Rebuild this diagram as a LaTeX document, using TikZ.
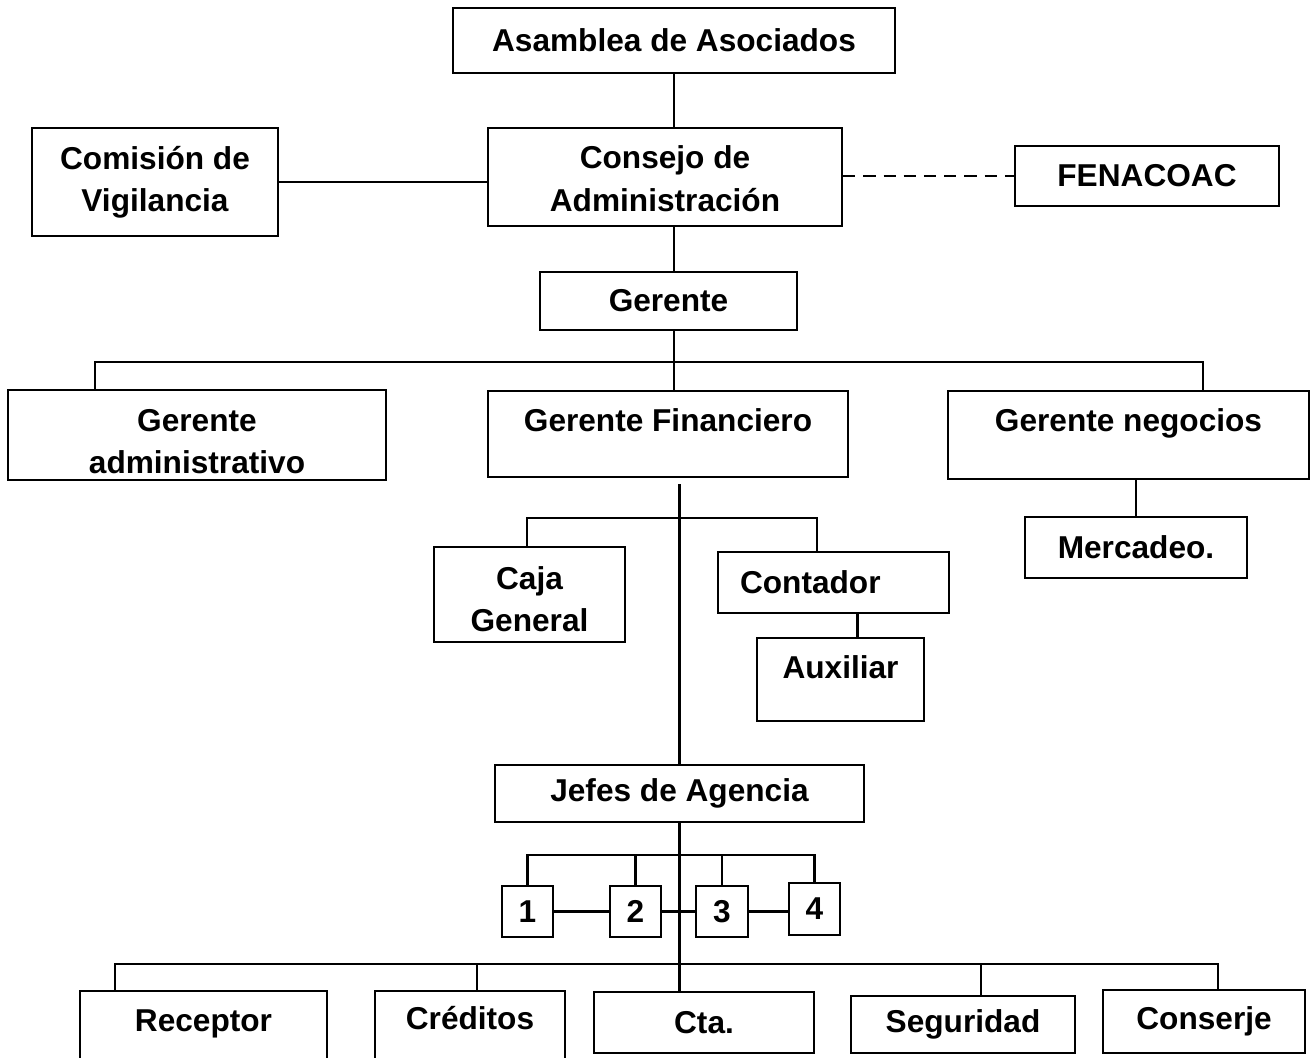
\documentclass[tikz,border=0pt]{standalone}
\usepackage{fontspec}
\setmainfont{Liberation Sans}
\usepackage{tikz}
\usetikzlibrary{positioning}

\begin{document}
\begin{tikzpicture}[x=0.02cm,y=-0.02cm,line width=1.3pt,
	box/.style={draw,line width=1.3pt,inner sep=0pt,align=center,font=\bfseries\fontsize{18}{24}\selectfont},
	topbox/.style={box,anchor=north}]

	\useasboundingbox (0,0) rectangle (1310,1057);

	% top of the chart
	\node[box,minimum width=8.84cm,minimum height=1.3cm]	(asam) at (674,40.5) {Asamblea de Asociados};
	\node[box,minimum width=4.92cm,minimum height=2.16cm]	(comi) at (155,182) {Comisión de\\Vigilancia};
	\node[box,minimum width=7.08cm,minimum height=1.96cm]	(cons) at (665,177) {\rule{0pt}{15pt}Consejo de\\Administración};
	\node[box,minimum width=5.28cm,minimum height=1.2cm]	(fena) at (1147,176) {FENACOAC};
	\node[box,minimum width=5.14cm,minimum height=1.16cm]	(ger) at (668.5,301) {Gerente};

	% gerentes
	\node[box,minimum width=7.56cm,minimum height=1.8cm]	(gadm) at (197,435) {\rule{0pt}{20pt}Gerente\\administrativo};
	\node[topbox,minimum width=7.2cm,text height=0.8cm,text depth=0.92cm]	(gfin) at (668,390) {Gerente Financiero};
	\node[topbox,minimum width=7.22cm,text height=0.8cm,text depth=0.96cm]	(gneg) at (1128.5,390) {Gerente negocios};
	\node[box,minimum width=4.44cm,minimum height=1.22cm]	(merc) at (1136,547.5) {Mercadeo.};

	% financiero
	\node[box,minimum width=3.82cm,minimum height=1.9cm]	(caja) at (529.5,594.5) {\rule{0pt}{18pt}Caja\\General};
	\node[box,align=left,inner xsep=0.44cm,text width=3.74cm,minimum height=1.22cm]	(cont) at (833.5,582.5) {Contador};
	\node[topbox,minimum width=3.34cm,text height=0.8cm,text depth=0.86cm]	(aux) at (840.5,637) {Auxiliar};
	\node[box,minimum width=7.38cm,minimum height=1.14cm]	(jefes) at (679.5,793.5) {Jefes de Agencia};

	% agencias
	\node[box,minimum width=1.02cm,minimum height=1.02cm]	(a1) at (527.5,911.5) {1};
	\node[box,minimum width=1.02cm,minimum height=1.02cm]	(a2) at (635.5,911.5) {2};
	\node[box,minimum width=1.04cm,minimum height=1.02cm]	(a3) at (722,911.5) {3};
	\node[box,minimum width=1.02cm,minimum height=1.04cm]	(a4) at (814.5,909) {4};

	% bottom row
	\node[topbox,minimum width=4.94cm,text height=0.8cm,text depth=0.8cm]	(rec) at (203.5,990) {Receptor};
	\node[topbox,minimum width=3.8cm,text height=0.76cm,text depth=0.84cm]	(cred) at (470,990) {Créditos};
	\node[box,minimum width=4.4cm,minimum height=1.22cm]	(cta) at (704,1022.5) {Cta.};
	\node[box,minimum width=4.48cm,minimum height=1.14cm]	(seg) at (963,1024.5) {Seguridad};
	\node[box,minimum width=4.04cm,minimum height=1.26cm]	(consj) at (1204,1021.5) {Conserje};

	\coordinate (b1l) at (95,362);
	\coordinate (b1r) at (1203,362);
	\coordinate (b2l) at (527,518);
	\coordinate (b2r) at (817,518);
	\coordinate (b4l) at (115,964);
	\coordinate (b4r) at (1218,964);

	\draw (asam.south) -- (asam.south |- cons.north);
	\draw (comi.east) -- (comi.east -| cons.west);
	\draw[dash pattern=on 7pt off 4.5pt] (cons.east |- fena.west) -- (fena.west);
	\draw (cons.south -| asam.south) -- (ger.north -| asam.south);
	\draw (ger.south -| asam.south) -- (gfin.north -| asam.south);
	\draw (gadm.north -| b1l) -- (b1l) -- (b1r) -- (gneg.north -| b1r);
	\draw (gneg.south -| merc.north) -- (merc.north);

	\draw ([yshift=-0.12cm]gfin.south -| jefes.north) -- (jefes.north);
	\draw[line width=2pt] ([yshift=-0.12cm]gfin.south -| jefes.north) -- (b2l -| jefes.north);
	\draw (caja.north -| b2l) -- (b2l) -- (b2r) -- (cont.north -| b2r);
	\draw ([xshift=0.34cm]aux.north) -- ([xshift=0.34cm]aux.north |- cont.south);

	\draw (jefes.south) -- (jefes.south |- cta.north);
	\draw (a1.north) -- ++(0,-30) -| (a4.north);
	\draw (a2.north) -- ++(0,-30);
	\draw (a3.north) -- ++(0,-30);
	\draw (a1) -- (a2);
	\draw (a2) -- (a3);
	\draw (a3.east) -- (a3.east -| a4.west);

	\draw (rec.north -| b4l) -- (b4l) -- (b4r) -- (consj.north -| b4r);
	\draw ([xshift=0.14cm]cred.north) -- ++(0,-26);
	\draw ([xshift=0.36cm]seg.north) -- ++(0,-32);
\end{tikzpicture}
\end{document}
